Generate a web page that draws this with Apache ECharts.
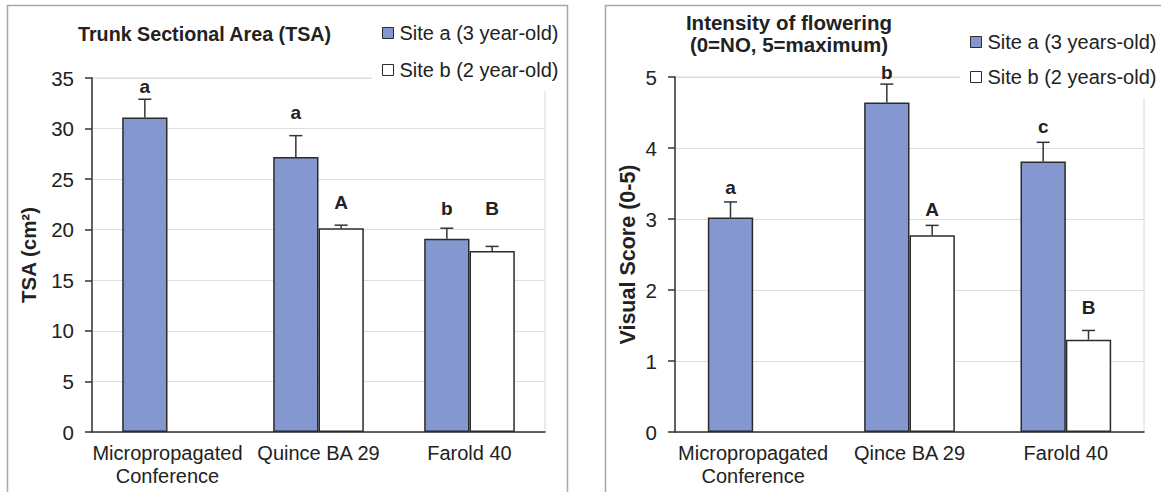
<!DOCTYPE html>
<html>
<head>
<meta charset="utf-8">
<title>TSA and flowering</title>
<script src="https://cdn.jsdelivr.net/npm/echarts@6/dist/echarts.min.js"></script>
<style>
  html, body { margin: 0; padding: 0; background: #fff; }
  #chart { width: 1161px; height: 492px; }
</style>
</head>
<body>
<div id="chart"></div>
<script>
// categories
var catsTsa = ['Micropropagated\nConference', 'Quince BA 29', 'Farold 40'];
var catsFlower = ['Micropropagated\nConference', 'Qince BA 29', 'Farold 40'];

// trunk sectional area (cm2)
var tsaSiteA = [31.1, 27.2, 19.1];
var tsaSiteAErr = [1.8, 2.1, 1.05];
var tsaSiteB = [null, 20.15, 17.9];
var tsaSiteBErr = [null, 0.3, 0.45];
var tsaLettersA = ['a', 'a', 'b'];
var tsaLettersB = [null, 'A', 'B'];
// height (in axis units) where the letters sit
var tsaLetterAtA = [34.2, 31.6, 22.1];
var tsaLetterAtB = [null, 22.7, 22.1];

// flowering visual score (0-5)
var flowSiteA = [3.02, 4.64, 3.81];
var flowSiteAErr = [0.22, 0.26, 0.27];
var flowSiteB = [null, 2.77, 1.3];
var flowSiteBErr = [null, 0.14, 0.13];
var flowLettersA = ['a', 'b', 'c'];
var flowLettersB = [null, 'A', 'B'];
var flowLetterAtA = [3.45, 5.06, 4.3];
var flowLetterAtB = [null, 3.13, 1.76];

var FONT = '"Liberation Sans", Arial, sans-serif';
var BLUE = '#8497cf';
var EDGE = '#2b2b2b';

var chart = echarts.init(document.getElementById('chart'), null, { renderer: 'svg' });

// error bar + significance letter, drawn over the bars
function errSeries(idx, means, errs, letters, letterAt, side, gap) {
  var data = [];
  means.forEach(function (m, i) {
    if (m != null) data.push([i, m, errs[i], letterAt[i]]);
  });
  return {
    type: 'custom',
    xAxisIndex: idx,
    yAxisIndex: idx,
    z: 5,
    silent: true,
    data: data,
    renderItem: function (params, api) {
      var i = api.value(0);
      var band = api.size([1, 0])[0];
      var off = side * band * (1 - gap) / 4;
      var base = api.coord([i, api.value(1)]);
      var top = api.coord([i, api.value(1) + api.value(2)]);
      var lab = api.coord([i, api.value(3)]);
      var x = base[0] + off;
      var ls = { stroke: '#333', lineWidth: 1.5 };
      return {
        type: 'group',
        children: [
          { type: 'line', shape: { x1: x, y1: base[1], x2: x, y2: top[1] }, style: ls },
          { type: 'line', shape: { x1: x - 6.5, y1: top[1], x2: x + 6.5, y2: top[1] }, style: ls },
          {
            type: 'text', x: x, y: lab[1],
            style: {
              text: letters[i], fill: '#222', fontSize: 19, fontWeight: 'bold',
              fontFamily: FONT, align: 'center', verticalAlign: 'middle'
            }
          }
        ]
      };
    }
  };
}

function xAx(idx, cats) {
  return {
    type: 'category', gridIndex: idx, data: cats,
    axisLine: { lineStyle: { color: '#333', width: 1.5 } },
    axisTick: { length: 5, lineStyle: { color: '#333', width: 1.5 } },
    axisLabel: { color: '#222', fontSize: 20, fontFamily: FONT, margin: 9, lineHeight: 23, interval: 0 }
  };
}

function yAx(idx, max, step, name, gap, nameSize) {
  return {
    type: 'value', gridIndex: idx, min: 0, max: max, interval: step,
    name: name, nameLocation: 'middle', nameGap: gap, nameRotate: 90,
    nameTextStyle: { color: '#222', fontSize: nameSize, fontWeight: 'bold', fontFamily: FONT },
    axisLine: { show: true, lineStyle: { color: '#333', width: 1.5 } },
    axisTick: { show: true, length: 7, lineStyle: { color: '#333', width: 1.5 } },
    axisLabel: { color: '#222', fontSize: 20.5, fontFamily: FONT, margin: 18 },
    splitLine: { lineStyle: { color: '#dedede', width: 1 } }
  };
}

function legendBox(left, top, gap, names) {
  return {
    left: left, top: top, orient: 'vertical', itemGap: gap,
    data: names, icon: 'rect', itemWidth: 11, itemHeight: 11,
    padding: [10, 6, 10, 10], backgroundColor: '#fff', selectedMode: false,
    itemStyle: { borderColor: EDGE, borderWidth: 1 },
    textStyle: { color: '#222', fontSize: 20, fontFamily: FONT, lineHeight: 22, padding: [0, 0, 0, 1] }
  };
}

function barStyle(color) {
  return { color: color, borderColor: EDGE, borderWidth: 1.5 };
}

chart.setOption({
  animation: false,
  graphic: [
    { type: 'rect', shape: { x: 7.5, y: 5.5, width: 560, height: 500 }, style: { fill: 'none', stroke: '#a8a8a8', lineWidth: 1.5 }, z: -1 },
    { type: 'rect', shape: { x: 605.5, y: 5.5, width: 600, height: 500 }, style: { fill: 'none', stroke: '#a8a8a8', lineWidth: 1.5 }, z: -1 }
  ],
  title: [
    {
      text: 'Trunk Sectional Area (TSA)', left: 73, top: 19,
      textStyle: { color: '#222', fontSize: 19.7, fontWeight: 'bold', fontFamily: FONT }
    },
    {
      text: 'Intensity of flowering\n(0=NO, 5=maximum)', left: 784, top: 6, textAlign: 'center',
      textStyle: { color: '#222', fontSize: 20.5, fontWeight: 'bold', fontFamily: FONT, lineHeight: 22 }
    }
  ],
  legend: [
    legendBox(372, 12, 15, ['Site a (3 year-old)', 'Site b (2 year-old)']),
    legendBox(960, 21, 13, ['Site a (3 years-old)', 'Site b (2 years-old)'])
  ],
  grid: [
    { left: 92, top: 78, width: 453, height: 354, show: true, borderColor: '#d8d8d8', borderWidth: 1 },
    { left: 675, top: 77, width: 469, height: 355, show: true, borderColor: '#d8d8d8', borderWidth: 1 }
  ],
  xAxis: [xAx(0, catsTsa), xAx(1, catsFlower)],
  yAxis: [yAx(0, 35, 5, 'TSA (cm²)', 53, 20.5), yAx(1, 5, 1, 'Visual Score (0-5)', 36, 21.5)],
  series: [
    {
      name: 'Site a (3 year-old)', type: 'bar', xAxisIndex: 0, yAxisIndex: 0,
      data: tsaSiteA, barGap: '0%', barCategoryGap: '40%', itemStyle: barStyle(BLUE)
    },
    {
      name: 'Site b (2 year-old)', type: 'bar', xAxisIndex: 0, yAxisIndex: 0,
      data: tsaSiteB.map(function (v) { return v == null ? '-' : v; }),
      barGap: '0%', barCategoryGap: '40%', itemStyle: barStyle('#fff')
    },
    {
      name: 'Site a (3 years-old)', type: 'bar', xAxisIndex: 1, yAxisIndex: 1,
      data: flowSiteA, barGap: '0%', barCategoryGap: '42%', itemStyle: barStyle(BLUE)
    },
    {
      name: 'Site b (2 years-old)', type: 'bar', xAxisIndex: 1, yAxisIndex: 1,
      data: flowSiteB.map(function (v) { return v == null ? '-' : v; }),
      barGap: '0%', barCategoryGap: '42%', itemStyle: barStyle('#fff')
    },
    errSeries(0, tsaSiteA, tsaSiteAErr, tsaLettersA, tsaLetterAtA, -1, 0.40),
    errSeries(0, tsaSiteB, tsaSiteBErr, tsaLettersB, tsaLetterAtB, 1, 0.40),
    errSeries(1, flowSiteA, flowSiteAErr, flowLettersA, flowLetterAtA, -1, 0.42),
    errSeries(1, flowSiteB, flowSiteBErr, flowLettersB, flowLetterAtB, 1, 0.42)
  ]
});
</script>
</body>
</html>
